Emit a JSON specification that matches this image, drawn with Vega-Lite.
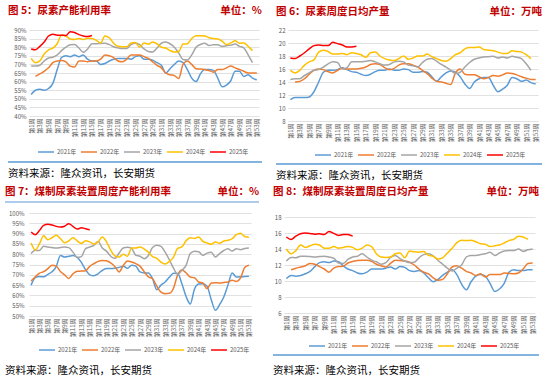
{
"$schema":"https://vega.github.io/schema/vega-lite/v6.json",
"padding":{"left":4,"top":5,"right":0,"bottom":0},
"background":"white",
"config":{"view":{"stroke":null},"font":"Noto Sans CJK SC",
"axis":{"labelFont":"Noto Sans CJK SC","labelColor":"#595959","labelFontSize":6,"minExtent":0},
"legend":{"labelFont":"Noto Sans CJK SC","orient":"none","direction":"horizontal","title":null,"symbolType":"stroke","symbolSize":256,"symbolStrokeWidth":2,"labelFontSize":6,"labelColor":"#595959","columnPadding":1,"labelOffset":2,"padding":0}},
"datasets":{
"p5":[
{"s":2021,"w":1,"v":52.5},{"s":2021,"w":2,"v":55},{"s":2021,"w":3,"v":55.5},{"s":2021,"w":4,"v":55},{"s":2021,"w":5,"v":56},{"s":2021,"w":6,"v":59},{"s":2021,"w":7,"v":67},{"s":2021,"w":8,"v":74},{"s":2021,"w":9,"v":75},{"s":2021,"w":10,"v":74.5},{"s":2021,"w":11,"v":75.5},{"s":2021,"w":12,"v":74.5},{"s":2021,"w":13,"v":75.5},{"s":2021,"w":14,"v":73},{"s":2021,"w":15,"v":72},{"s":2021,"w":16,"v":72},{"s":2021,"w":17,"v":70},{"s":2021,"w":18,"v":70.5},{"s":2021,"w":19,"v":72},{"s":2021,"w":20,"v":73},{"s":2021,"w":21,"v":73.5},{"s":2021,"w":22,"v":73.5},{"s":2021,"w":23,"v":73.5},{"s":2021,"w":24,"v":73},{"s":2021,"w":25,"v":74.5},{"s":2021,"w":26,"v":75},{"s":2021,"w":27,"v":73},{"s":2021,"w":28,"v":73},{"s":2021,"w":29,"v":72.5},{"s":2021,"w":30,"v":71},{"s":2021,"w":31,"v":69.5},{"s":2021,"w":32,"v":65},{"s":2021,"w":33,"v":67.5},{"s":2021,"w":34,"v":70},{"s":2021,"w":35,"v":72},{"s":2021,"w":36,"v":71},{"s":2021,"w":37,"v":67},{"s":2021,"w":38,"v":62},{"s":2021,"w":39,"v":60},{"s":2021,"w":40,"v":64.5},{"s":2021,"w":41,"v":67},{"s":2021,"w":42,"v":67},{"s":2021,"w":43,"v":66.5},{"s":2021,"w":44,"v":62},{"s":2021,"w":45,"v":57},{"s":2021,"w":46,"v":58},{"s":2021,"w":47,"v":60.5},{"s":2021,"w":48,"v":66},{"s":2021,"w":49,"v":66},{"s":2021,"w":50,"v":63},{"s":2021,"w":51,"v":64},{"s":2021,"w":52,"v":62},{"s":2021,"w":53,"v":61},
{"s":2022,"w":2,"v":63},{"s":2022,"w":3,"v":64.5},{"s":2022,"w":4,"v":66},{"s":2022,"w":5,"v":68},{"s":2022,"w":6,"v":71},{"s":2022,"w":7,"v":72},{"s":2022,"w":8,"v":72.2},{"s":2022,"w":9,"v":71.5},{"s":2022,"w":10,"v":69},{"s":2022,"w":11,"v":68.5},{"s":2022,"w":12,"v":72},{"s":2022,"w":13,"v":72},{"s":2022,"w":14,"v":71.5},{"s":2022,"w":15,"v":72},{"s":2022,"w":16,"v":72},{"s":2022,"w":17,"v":73},{"s":2022,"w":18,"v":75.5},{"s":2022,"w":19,"v":75},{"s":2022,"w":20,"v":74},{"s":2022,"w":21,"v":72},{"s":2022,"w":22,"v":71.5},{"s":2022,"w":23,"v":73},{"s":2022,"w":24,"v":75.5},{"s":2022,"w":25,"v":75.5},{"s":2022,"w":26,"v":75.5},{"s":2022,"w":27,"v":74.5},{"s":2022,"w":28,"v":73.5},{"s":2022,"w":29,"v":71.5},{"s":2022,"w":30,"v":69.5},{"s":2022,"w":31,"v":68},{"s":2022,"w":32,"v":65},{"s":2022,"w":33,"v":64},{"s":2022,"w":34,"v":63.5},{"s":2022,"w":35,"v":61.8},{"s":2022,"w":36,"v":70},{"s":2022,"w":37,"v":72},{"s":2022,"w":38,"v":70},{"s":2022,"w":39,"v":67.5},{"s":2022,"w":40,"v":67.3},{"s":2022,"w":41,"v":67},{"s":2022,"w":42,"v":66.5},{"s":2022,"w":43,"v":65.5},{"s":2022,"w":44,"v":67},{"s":2022,"w":45,"v":67},{"s":2022,"w":46,"v":68},{"s":2022,"w":47,"v":69},{"s":2022,"w":48,"v":68},{"s":2022,"w":49,"v":67},{"s":2022,"w":50,"v":66},{"s":2022,"w":51,"v":65},{"s":2022,"w":52,"v":65},{"s":2022,"w":53,"v":65},
{"s":2023,"w":1,"v":69},{"s":2023,"w":2,"v":69},{"s":2023,"w":3,"v":69.5},{"s":2023,"w":4,"v":72},{"s":2023,"w":5,"v":73.7},{"s":2023,"w":6,"v":74.2},{"s":2023,"w":7,"v":75.5},{"s":2023,"w":8,"v":78},{"s":2023,"w":9,"v":80},{"s":2023,"w":10,"v":81.4},{"s":2023,"w":11,"v":81.5},{"s":2023,"w":12,"v":79.5},{"s":2023,"w":13,"v":77},{"s":2023,"w":14,"v":79},{"s":2023,"w":15,"v":82},{"s":2023,"w":16,"v":82},{"s":2023,"w":17,"v":82.2},{"s":2023,"w":18,"v":82.3},{"s":2023,"w":19,"v":81.5},{"s":2023,"w":20,"v":80.3},{"s":2023,"w":21,"v":79.6},{"s":2023,"w":22,"v":79.2},{"s":2023,"w":23,"v":79.2},{"s":2023,"w":24,"v":81.5},{"s":2023,"w":25,"v":82.3},{"s":2023,"w":26,"v":81.5},{"s":2023,"w":27,"v":79},{"s":2023,"w":28,"v":77.5},{"s":2023,"w":29,"v":77.2},{"s":2023,"w":30,"v":79.5},{"s":2023,"w":31,"v":82.3},{"s":2023,"w":32,"v":83},{"s":2023,"w":33,"v":82},{"s":2023,"w":34,"v":80},{"s":2023,"w":35,"v":76.6},{"s":2023,"w":36,"v":72.8},{"s":2023,"w":37,"v":72.5},{"s":2023,"w":38,"v":75.5},{"s":2023,"w":39,"v":80},{"s":2023,"w":40,"v":81.6},{"s":2023,"w":41,"v":82.3},{"s":2023,"w":42,"v":81},{"s":2023,"w":43,"v":81.4},{"s":2023,"w":44,"v":81.4},{"s":2023,"w":45,"v":80.4},{"s":2023,"w":46,"v":80.8},{"s":2023,"w":47,"v":81.2},{"s":2023,"w":48,"v":81.8},{"s":2023,"w":49,"v":80.5},{"s":2023,"w":50,"v":79.6},{"s":2023,"w":51,"v":75.6},{"s":2023,"w":52,"v":71},
{"s":2024,"w":1,"v":73.5},{"s":2024,"w":2,"v":71},{"s":2024,"w":3,"v":72},{"s":2024,"w":4,"v":76},{"s":2024,"w":5,"v":78.5},{"s":2024,"w":6,"v":79.5},{"s":2024,"w":7,"v":82},{"s":2024,"w":8,"v":87},{"s":2024,"w":9,"v":86.5},{"s":2024,"w":10,"v":84.8},{"s":2024,"w":11,"v":84.5},{"s":2024,"w":12,"v":85},{"s":2024,"w":13,"v":84.5},{"s":2024,"w":14,"v":85.2},{"s":2024,"w":15,"v":85},{"s":2024,"w":16,"v":84},{"s":2024,"w":17,"v":82.5},{"s":2024,"w":18,"v":86.5},{"s":2024,"w":19,"v":85.5},{"s":2024,"w":20,"v":82.3},{"s":2024,"w":21,"v":80.5},{"s":2024,"w":22,"v":80.2},{"s":2024,"w":23,"v":80.2},{"s":2024,"w":24,"v":82.5},{"s":2024,"w":25,"v":82.8},{"s":2024,"w":26,"v":80},{"s":2024,"w":27,"v":82.5},{"s":2024,"w":28,"v":81.8},{"s":2024,"w":29,"v":83},{"s":2024,"w":30,"v":82},{"s":2024,"w":31,"v":80},{"s":2024,"w":32,"v":79.5},{"s":2024,"w":33,"v":78},{"s":2024,"w":34,"v":77.2},{"s":2024,"w":35,"v":77.5},{"s":2024,"w":36,"v":81.8},{"s":2024,"w":37,"v":82},{"s":2024,"w":38,"v":85},{"s":2024,"w":39,"v":86.6},{"s":2024,"w":40,"v":86.6},{"s":2024,"w":41,"v":86.5},{"s":2024,"w":42,"v":85.5},{"s":2024,"w":43,"v":85},{"s":2024,"w":44,"v":84.8},{"s":2024,"w":45,"v":83.5},{"s":2024,"w":46,"v":81.5},{"s":2024,"w":47,"v":82.5},{"s":2024,"w":48,"v":83.7},{"s":2024,"w":49,"v":82.3},{"s":2024,"w":50,"v":82.5},{"s":2024,"w":51,"v":80.5},{"s":2024,"w":52,"v":78},
{"s":2025,"w":1,"v":79},{"s":2025,"w":2,"v":78.5},{"s":2025,"w":3,"v":80.5},{"s":2025,"w":4,"v":83},{"s":2025,"w":5,"v":86.5},{"s":2025,"w":6,"v":87.5},{"s":2025,"w":7,"v":87},{"s":2025,"w":8,"v":87},{"s":2025,"w":9,"v":86.8},{"s":2025,"w":10,"v":89},{"s":2025,"w":11,"v":88.5},{"s":2025,"w":12,"v":87.3},{"s":2025,"w":13,"v":86.5},{"s":2025,"w":14,"v":86.2},{"s":2025,"w":15,"v":86.8}
],
"p6":[
{"s":2021,"w":1,"v":11.3},{"s":2021,"w":2,"v":11.6},{"s":2021,"w":3,"v":11.6},{"s":2021,"w":4,"v":11.6},{"s":2021,"w":5,"v":11.7},{"s":2021,"w":6,"v":12.5},{"s":2021,"w":7,"v":14},{"s":2021,"w":8,"v":15.5},{"s":2021,"w":9,"v":15.8},{"s":2021,"w":10,"v":15.8},{"s":2021,"w":11,"v":15.9},{"s":2021,"w":12,"v":16.2},{"s":2021,"w":13,"v":15.9},{"s":2021,"w":14,"v":15.6},{"s":2021,"w":15,"v":15.5},{"s":2021,"w":16,"v":15.2},{"s":2021,"w":17,"v":15},{"s":2021,"w":18,"v":15.2},{"s":2021,"w":19,"v":15.6},{"s":2021,"w":20,"v":15.8},{"s":2021,"w":21,"v":15.8},{"s":2021,"w":22,"v":16},{"s":2021,"w":23,"v":15.8},{"s":2021,"w":24,"v":15.8},{"s":2021,"w":25,"v":16},{"s":2021,"w":26,"v":15.9},{"s":2021,"w":27,"v":15.5},{"s":2021,"w":28,"v":15.5},{"s":2021,"w":29,"v":15.6},{"s":2021,"w":30,"v":15.5},{"s":2021,"w":31,"v":14.8},{"s":2021,"w":32,"v":14.1},{"s":2021,"w":33,"v":14.8},{"s":2021,"w":34,"v":15.4},{"s":2021,"w":35,"v":15.7},{"s":2021,"w":36,"v":15.5},{"s":2021,"w":37,"v":14.8},{"s":2021,"w":38,"v":13.7},{"s":2021,"w":39,"v":13},{"s":2021,"w":40,"v":14},{"s":2021,"w":41,"v":14.5},{"s":2021,"w":42,"v":14.7},{"s":2021,"w":43,"v":14.7},{"s":2021,"w":44,"v":13.5},{"s":2021,"w":45,"v":12.5},{"s":2021,"w":46,"v":12.9},{"s":2021,"w":47,"v":13.5},{"s":2021,"w":48,"v":14.7},{"s":2021,"w":49,"v":14.5},{"s":2021,"w":50,"v":14.1},{"s":2021,"w":51,"v":14.3},{"s":2021,"w":52,"v":13.9},{"s":2021,"w":53,"v":13.7},
{"s":2022,"w":2,"v":14},{"s":2022,"w":3,"v":14.1},{"s":2022,"w":4,"v":14.5},{"s":2022,"w":5,"v":15.2},{"s":2022,"w":6,"v":15.8},{"s":2022,"w":7,"v":16},{"s":2022,"w":8,"v":15.9},{"s":2022,"w":9,"v":15.6},{"s":2022,"w":10,"v":15.4},{"s":2022,"w":11,"v":15.8},{"s":2022,"w":12,"v":16.1},{"s":2022,"w":13,"v":16},{"s":2022,"w":14,"v":16},{"s":2022,"w":15,"v":16},{"s":2022,"w":16,"v":16.1},{"s":2022,"w":17,"v":16.3},{"s":2022,"w":18,"v":16.7},{"s":2022,"w":19,"v":16.8},{"s":2022,"w":20,"v":16.7},{"s":2022,"w":21,"v":16.2},{"s":2022,"w":22,"v":15.9},{"s":2022,"w":23,"v":16.1},{"s":2022,"w":24,"v":16.6},{"s":2022,"w":25,"v":16.8},{"s":2022,"w":26,"v":16.8},{"s":2022,"w":27,"v":16.6},{"s":2022,"w":28,"v":16.3},{"s":2022,"w":29,"v":15.8},{"s":2022,"w":30,"v":15.3},{"s":2022,"w":31,"v":14.6},{"s":2022,"w":32,"v":14.1},{"s":2022,"w":33,"v":14},{"s":2022,"w":34,"v":13.8},{"s":2022,"w":35,"v":13.6},{"s":2022,"w":36,"v":15.4},{"s":2022,"w":37,"v":16},{"s":2022,"w":38,"v":15.2},{"s":2022,"w":39,"v":15.1},{"s":2022,"w":40,"v":15.1},{"s":2022,"w":41,"v":14.8},{"s":2022,"w":42,"v":14.5},{"s":2022,"w":43,"v":14.7},{"s":2022,"w":44,"v":15},{"s":2022,"w":45,"v":14.9},{"s":2022,"w":46,"v":15.1},{"s":2022,"w":47,"v":15.4},{"s":2022,"w":48,"v":15.3},{"s":2022,"w":49,"v":15.1},{"s":2022,"w":50,"v":14.8},{"s":2022,"w":51,"v":14.6},{"s":2022,"w":52,"v":14.4},{"s":2022,"w":53,"v":14.4},
{"s":2023,"w":1,"v":14.4},{"s":2023,"w":2,"v":14.5},{"s":2023,"w":3,"v":14.5},{"s":2023,"w":4,"v":15},{"s":2023,"w":5,"v":15.4},{"s":2023,"w":6,"v":15.8},{"s":2023,"w":7,"v":15.9},{"s":2023,"w":8,"v":16.3},{"s":2023,"w":9,"v":16.8},{"s":2023,"w":10,"v":17.1},{"s":2023,"w":11,"v":17},{"s":2023,"w":12,"v":16},{"s":2023,"w":13,"v":16.2},{"s":2023,"w":14,"v":17.1},{"s":2023,"w":15,"v":17.1},{"s":2023,"w":16,"v":17.1},{"s":2023,"w":17,"v":17.2},{"s":2023,"w":18,"v":17.3},{"s":2023,"w":19,"v":17.1},{"s":2023,"w":20,"v":16.8},{"s":2023,"w":21,"v":16.6},{"s":2023,"w":22,"v":16.7},{"s":2023,"w":23,"v":17.1},{"s":2023,"w":24,"v":17.2},{"s":2023,"w":25,"v":17.1},{"s":2023,"w":26,"v":16.6},{"s":2023,"w":27,"v":16.5},{"s":2023,"w":28,"v":16.3},{"s":2023,"w":29,"v":17},{"s":2023,"w":30,"v":17.5},{"s":2023,"w":31,"v":17.6},{"s":2023,"w":32,"v":17.2},{"s":2023,"w":33,"v":16.7},{"s":2023,"w":34,"v":16.3},{"s":2023,"w":35,"v":15.8},{"s":2023,"w":36,"v":15.3},{"s":2023,"w":37,"v":15.5},{"s":2023,"w":38,"v":16.3},{"s":2023,"w":39,"v":17},{"s":2023,"w":40,"v":17.5},{"s":2023,"w":41,"v":17.7},{"s":2023,"w":42,"v":17.85},{"s":2023,"w":43,"v":17.9},{"s":2023,"w":44,"v":17.95},{"s":2023,"w":45,"v":17.7},{"s":2023,"w":46,"v":17.85},{"s":2023,"w":47,"v":17.7},{"s":2023,"w":48,"v":17.95},{"s":2023,"w":49,"v":17.8},{"s":2023,"w":50,"v":17.6},{"s":2023,"w":51,"v":16.8},{"s":2023,"w":52,"v":15.8},
{"s":2024,"w":1,"v":15.8},{"s":2024,"w":2,"v":15.4},{"s":2024,"w":3,"v":15.8},{"s":2024,"w":4,"v":16.6},{"s":2024,"w":5,"v":17.1},{"s":2024,"w":6,"v":17.4},{"s":2024,"w":7,"v":18.6},{"s":2024,"w":8,"v":18.9},{"s":2024,"w":9,"v":18.7},{"s":2024,"w":10,"v":18.3},{"s":2024,"w":11,"v":18.3},{"s":2024,"w":12,"v":18.4},{"s":2024,"w":13,"v":18.2},{"s":2024,"w":14,"v":18.5},{"s":2024,"w":15,"v":18.4},{"s":2024,"w":16,"v":18.2},{"s":2024,"w":17,"v":17.8},{"s":2024,"w":18,"v":18.5},{"s":2024,"w":19,"v":18.6},{"s":2024,"w":20,"v":18},{"s":2024,"w":21,"v":17.6},{"s":2024,"w":22,"v":17.4},{"s":2024,"w":23,"v":17.3},{"s":2024,"w":24,"v":17.6},{"s":2024,"w":25,"v":18},{"s":2024,"w":26,"v":17.5},{"s":2024,"w":27,"v":17.7},{"s":2024,"w":28,"v":18},{"s":2024,"w":29,"v":18},{"s":2024,"w":30,"v":18.3},{"s":2024,"w":31,"v":17.9},{"s":2024,"w":32,"v":17.6},{"s":2024,"w":33,"v":17.3},{"s":2024,"w":34,"v":17.2},{"s":2024,"w":35,"v":17.6},{"s":2024,"w":36,"v":18.2},{"s":2024,"w":37,"v":18.5},{"s":2024,"w":38,"v":19.1},{"s":2024,"w":39,"v":19.3},{"s":2024,"w":40,"v":19.3},{"s":2024,"w":41,"v":19.4},{"s":2024,"w":42,"v":19},{"s":2024,"w":43,"v":18.9},{"s":2024,"w":44,"v":18.8},{"s":2024,"w":45,"v":18.6},{"s":2024,"w":46,"v":18.4},{"s":2024,"w":47,"v":18.4},{"s":2024,"w":48,"v":18.8},{"s":2024,"w":49,"v":18.7},{"s":2024,"w":50,"v":18.6},{"s":2024,"w":51,"v":18.2},{"s":2024,"w":52,"v":17.6},
{"s":2025,"w":1,"v":17.7},{"s":2025,"w":2,"v":17.6},{"s":2025,"w":3,"v":18},{"s":2025,"w":4,"v":18.5},{"s":2025,"w":5,"v":19.1},{"s":2025,"w":6,"v":19.6},{"s":2025,"w":7,"v":19.7},{"s":2025,"w":8,"v":19.6},{"s":2025,"w":9,"v":19.6},{"s":2025,"w":10,"v":20.1},{"s":2025,"w":11,"v":19.9},{"s":2025,"w":12,"v":19.7},{"s":2025,"w":13,"v":19.4},{"s":2025,"w":14,"v":19.4},{"s":2025,"w":15,"v":19.5}
],
"p7":[
{"s":2021,"w":1,"v":65},{"s":2021,"w":2,"v":68.6},{"s":2021,"w":3,"v":69.2},{"s":2021,"w":4,"v":69},{"s":2021,"w":5,"v":70.2},{"s":2021,"w":6,"v":71.5},{"s":2021,"w":7,"v":74},{"s":2021,"w":8,"v":79.4},{"s":2021,"w":9,"v":78.6},{"s":2021,"w":10,"v":79},{"s":2021,"w":11,"v":79.4},{"s":2021,"w":12,"v":78.5},{"s":2021,"w":13,"v":76},{"s":2021,"w":14,"v":72.5},{"s":2021,"w":15,"v":70},{"s":2021,"w":16,"v":69.5},{"s":2021,"w":17,"v":70.5},{"s":2021,"w":18,"v":72.2},{"s":2021,"w":19,"v":73},{"s":2021,"w":20,"v":73},{"s":2021,"w":21,"v":73.2},{"s":2021,"w":22,"v":73.6},{"s":2021,"w":23,"v":74.2},{"s":2021,"w":24,"v":73.2},{"s":2021,"w":25,"v":74.6},{"s":2021,"w":26,"v":74.2},{"s":2021,"w":27,"v":71.4},{"s":2021,"w":28,"v":70.9},{"s":2021,"w":29,"v":70.9},{"s":2021,"w":30,"v":68.1},{"s":2021,"w":31,"v":62.8},{"s":2021,"w":32,"v":65},{"s":2021,"w":33,"v":66.5},{"s":2021,"w":34,"v":68.8},{"s":2021,"w":35,"v":70.8},{"s":2021,"w":36,"v":70.6},{"s":2021,"w":37,"v":65.7},{"s":2021,"w":38,"v":59.5},{"s":2021,"w":39,"v":55.8},{"s":2021,"w":40,"v":63},{"s":2021,"w":41,"v":65.5},{"s":2021,"w":42,"v":65.7},{"s":2021,"w":43,"v":64.5},{"s":2021,"w":44,"v":58},{"s":2021,"w":45,"v":52.8},{"s":2021,"w":46,"v":55.5},{"s":2021,"w":47,"v":59.2},{"s":2021,"w":48,"v":65},{"s":2021,"w":49,"v":70.9},{"s":2021,"w":50,"v":68.9},{"s":2021,"w":51,"v":69},{"s":2021,"w":52,"v":69.2},{"s":2021,"w":53,"v":69.3},
{"s":2022,"w":1,"v":67},{"s":2022,"w":2,"v":69},{"s":2022,"w":3,"v":70.8},{"s":2022,"w":4,"v":71.5},{"s":2022,"w":5,"v":73},{"s":2022,"w":6,"v":74.6},{"s":2022,"w":7,"v":74.2},{"s":2022,"w":8,"v":71.6},{"s":2022,"w":9,"v":70},{"s":2022,"w":10,"v":68.2},{"s":2022,"w":11,"v":70.5},{"s":2022,"w":12,"v":71.7},{"s":2022,"w":13,"v":71.8},{"s":2022,"w":14,"v":72},{"s":2022,"w":15,"v":74.1},{"s":2022,"w":16,"v":75.4},{"s":2022,"w":17,"v":76.5},{"s":2022,"w":18,"v":77},{"s":2022,"w":19,"v":76.8},{"s":2022,"w":20,"v":75.8},{"s":2022,"w":21,"v":74},{"s":2022,"w":22,"v":71.4},{"s":2022,"w":23,"v":74.5},{"s":2022,"w":24,"v":76.7},{"s":2022,"w":25,"v":76.2},{"s":2022,"w":26,"v":75.4},{"s":2022,"w":27,"v":74.2},{"s":2022,"w":28,"v":71.5},{"s":2022,"w":29,"v":69},{"s":2022,"w":30,"v":68.1},{"s":2022,"w":31,"v":64.5},{"s":2022,"w":32,"v":61.6},{"s":2022,"w":33,"v":60.8},{"s":2022,"w":34,"v":61},{"s":2022,"w":35,"v":63.5},{"s":2022,"w":36,"v":70},{"s":2022,"w":37,"v":72.3},{"s":2022,"w":38,"v":71},{"s":2022,"w":39,"v":68.9},{"s":2022,"w":40,"v":68.6},{"s":2022,"w":41,"v":66.5},{"s":2022,"w":42,"v":66},{"s":2022,"w":43,"v":63.3},{"s":2022,"w":44,"v":66},{"s":2022,"w":45,"v":66.2},{"s":2022,"w":46,"v":66},{"s":2022,"w":47,"v":66.3},{"s":2022,"w":48,"v":66.5},{"s":2022,"w":49,"v":67.3},{"s":2022,"w":50,"v":66.8},{"s":2022,"w":51,"v":68.5},{"s":2022,"w":52,"v":73.5},{"s":2022,"w":53,"v":74.6},
{"s":2023,"w":1,"v":80.3},{"s":2023,"w":2,"v":81.9},{"s":2023,"w":3,"v":81.8},{"s":2023,"w":4,"v":83.8},{"s":2023,"w":5,"v":83.5},{"s":2023,"w":6,"v":83.2},{"s":2023,"w":7,"v":83},{"s":2023,"w":8,"v":83.2},{"s":2023,"w":9,"v":83.5},{"s":2023,"w":10,"v":83.2},{"s":2023,"w":11,"v":81},{"s":2023,"w":12,"v":78.4},{"s":2023,"w":13,"v":78.8},{"s":2023,"w":14,"v":82.7},{"s":2023,"w":15,"v":83.5},{"s":2023,"w":16,"v":84.3},{"s":2023,"w":17,"v":86.2},{"s":2023,"w":18,"v":83},{"s":2023,"w":19,"v":81.5},{"s":2023,"w":20,"v":79},{"s":2023,"w":21,"v":78},{"s":2023,"w":22,"v":80.5},{"s":2023,"w":23,"v":83},{"s":2023,"w":24,"v":83.4},{"s":2023,"w":25,"v":82.8},{"s":2023,"w":26,"v":79.5},{"s":2023,"w":27,"v":79},{"s":2023,"w":28,"v":77.8},{"s":2023,"w":29,"v":79.4},{"s":2023,"w":30,"v":83.2},{"s":2023,"w":31,"v":84.3},{"s":2023,"w":32,"v":83.8},{"s":2023,"w":33,"v":81},{"s":2023,"w":34,"v":77.3},{"s":2023,"w":35,"v":73.2},{"s":2023,"w":36,"v":70.2},{"s":2023,"w":37,"v":72.2},{"s":2023,"w":38,"v":74.6},{"s":2023,"w":39,"v":80.3},{"s":2023,"w":40,"v":81.4},{"s":2023,"w":41,"v":81.2},{"s":2023,"w":42,"v":79.4},{"s":2023,"w":43,"v":80.5},{"s":2023,"w":44,"v":81},{"s":2023,"w":45,"v":78.6},{"s":2023,"w":46,"v":80.3},{"s":2023,"w":47,"v":81.8},{"s":2023,"w":48,"v":82.6},{"s":2023,"w":49,"v":81.5},{"s":2023,"w":50,"v":82.7},{"s":2023,"w":51,"v":82.2},{"s":2023,"w":52,"v":82.8},{"s":2023,"w":53,"v":83},
{"s":2024,"w":1,"v":85.4},{"s":2024,"w":2,"v":82},{"s":2024,"w":3,"v":85},{"s":2024,"w":4,"v":89},{"s":2024,"w":5,"v":87},{"s":2024,"w":6,"v":88},{"s":2024,"w":7,"v":89.2},{"s":2024,"w":8,"v":87.6},{"s":2024,"w":9,"v":85.5},{"s":2024,"w":10,"v":86.5},{"s":2024,"w":11,"v":88},{"s":2024,"w":12,"v":86.5},{"s":2024,"w":13,"v":85.2},{"s":2024,"w":14,"v":86.5},{"s":2024,"w":15,"v":86},{"s":2024,"w":16,"v":85},{"s":2024,"w":17,"v":86},{"s":2024,"w":18,"v":88.4},{"s":2024,"w":19,"v":86},{"s":2024,"w":20,"v":82},{"s":2024,"w":21,"v":79.2},{"s":2024,"w":22,"v":78.6},{"s":2024,"w":23,"v":80},{"s":2024,"w":24,"v":79},{"s":2024,"w":25,"v":83},{"s":2024,"w":26,"v":83},{"s":2024,"w":27,"v":83.5},{"s":2024,"w":28,"v":82.5},{"s":2024,"w":29,"v":81},{"s":2024,"w":30,"v":78.8},{"s":2024,"w":31,"v":78},{"s":2024,"w":32,"v":76.2},{"s":2024,"w":33,"v":75.3},{"s":2024,"w":34,"v":76.5},{"s":2024,"w":35,"v":78.6},{"s":2024,"w":36,"v":82.8},{"s":2024,"w":37,"v":83.5},{"s":2024,"w":38,"v":86.5},{"s":2024,"w":39,"v":88},{"s":2024,"w":40,"v":87.6},{"s":2024,"w":41,"v":88.4},{"s":2024,"w":42,"v":86.2},{"s":2024,"w":43,"v":85.5},{"s":2024,"w":44,"v":84.8},{"s":2024,"w":45,"v":85.9},{"s":2024,"w":46,"v":85.3},{"s":2024,"w":47,"v":86.4},{"s":2024,"w":48,"v":86.8},{"s":2024,"w":49,"v":87.5},{"s":2024,"w":50,"v":89.5},{"s":2024,"w":51,"v":90.2},{"s":2024,"w":52,"v":88.6},{"s":2024,"w":53,"v":88.2},
{"s":2025,"w":1,"v":90.8},{"s":2025,"w":2,"v":89.5},{"s":2025,"w":3,"v":91.5},{"s":2025,"w":4,"v":94},{"s":2025,"w":5,"v":94.5},{"s":2025,"w":6,"v":94.2},{"s":2025,"w":7,"v":93.5},{"s":2025,"w":8,"v":93.2},{"s":2025,"w":9,"v":93.6},{"s":2025,"w":10,"v":94.8},{"s":2025,"w":11,"v":93.5},{"s":2025,"w":12,"v":92.2},{"s":2025,"w":13,"v":92.8},{"s":2025,"w":14,"v":92.4},{"s":2025,"w":15,"v":91.9}
],
"p8":[
{"s":2021,"w":1,"v":10.3},{"s":2021,"w":2,"v":10.7},{"s":2021,"w":3,"v":10.6},{"s":2021,"w":4,"v":10.7},{"s":2021,"w":5,"v":10.9},{"s":2021,"w":6,"v":11.2},{"s":2021,"w":7,"v":11.8},{"s":2021,"w":8,"v":12.3},{"s":2021,"w":9,"v":12.4},{"s":2021,"w":10,"v":12.3},{"s":2021,"w":11,"v":12.5},{"s":2021,"w":12,"v":12.4},{"s":2021,"w":13,"v":11.9},{"s":2021,"w":14,"v":11.5},{"s":2021,"w":15,"v":11.3},{"s":2021,"w":16,"v":11},{"s":2021,"w":17,"v":10.9},{"s":2021,"w":18,"v":11.1},{"s":2021,"w":19,"v":11.5},{"s":2021,"w":20,"v":11.5},{"s":2021,"w":21,"v":11.5},{"s":2021,"w":22,"v":11.6},{"s":2021,"w":23,"v":11.75},{"s":2021,"w":24,"v":11.5},{"s":2021,"w":25,"v":11.8},{"s":2021,"w":26,"v":11.7},{"s":2021,"w":27,"v":11.3},{"s":2021,"w":28,"v":11.2},{"s":2021,"w":29,"v":11.3},{"s":2021,"w":30,"v":11},{"s":2021,"w":31,"v":10.4},{"s":2021,"w":32,"v":9.9},{"s":2021,"w":33,"v":10.2},{"s":2021,"w":34,"v":10.7},{"s":2021,"w":35,"v":11.1},{"s":2021,"w":36,"v":11.4},{"s":2021,"w":37,"v":10.8},{"s":2021,"w":38,"v":9.6},{"s":2021,"w":39,"v":8.9},{"s":2021,"w":40,"v":9.9},{"s":2021,"w":41,"v":10.6},{"s":2021,"w":42,"v":10.8},{"s":2021,"w":43,"v":10.6},{"s":2021,"w":44,"v":9.7},{"s":2021,"w":45,"v":8.7},{"s":2021,"w":46,"v":9},{"s":2021,"w":47,"v":9.7},{"s":2021,"w":48,"v":11.1},{"s":2021,"w":49,"v":11.4},{"s":2021,"w":50,"v":11.3},{"s":2021,"w":51,"v":11.3},{"s":2021,"w":52,"v":11.4},{"s":2021,"w":53,"v":11.4},
{"s":2022,"w":2,"v":11.4},{"s":2022,"w":3,"v":11.6},{"s":2022,"w":4,"v":11.75},{"s":2022,"w":5,"v":11.9},{"s":2022,"w":6,"v":12.2},{"s":2022,"w":7,"v":12.1},{"s":2022,"w":8,"v":11.8},{"s":2022,"w":9,"v":11.5},{"s":2022,"w":10,"v":11.1},{"s":2022,"w":11,"v":11.6},{"s":2022,"w":12,"v":11.8},{"s":2022,"w":13,"v":11.85},{"s":2022,"w":14,"v":12.25},{"s":2022,"w":15,"v":12.45},{"s":2022,"w":16,"v":12.55},{"s":2022,"w":17,"v":12.6},{"s":2022,"w":18,"v":12.6},{"s":2022,"w":19,"v":12.45},{"s":2022,"w":20,"v":12.1},{"s":2022,"w":21,"v":11.9},{"s":2022,"w":22,"v":11.75},{"s":2022,"w":23,"v":12.2},{"s":2022,"w":24,"v":12.6},{"s":2022,"w":25,"v":12.55},{"s":2022,"w":26,"v":12.5},{"s":2022,"w":27,"v":12.35},{"s":2022,"w":28,"v":12},{"s":2022,"w":29,"v":11.5},{"s":2022,"w":30,"v":11.1},{"s":2022,"w":31,"v":10.9},{"s":2022,"w":32,"v":10.4},{"s":2022,"w":33,"v":10.1},{"s":2022,"w":34,"v":10.2},{"s":2022,"w":35,"v":10.9},{"s":2022,"w":36,"v":11.75},{"s":2022,"w":37,"v":11.9},{"s":2022,"w":38,"v":11.6},{"s":2022,"w":39,"v":11.2},{"s":2022,"w":40,"v":11},{"s":2022,"w":41,"v":10.7},{"s":2022,"w":42,"v":10.9},{"s":2022,"w":43,"v":10.5},{"s":2022,"w":44,"v":10.8},{"s":2022,"w":45,"v":10.8},{"s":2022,"w":46,"v":10.8},{"s":2022,"w":47,"v":11},{"s":2022,"w":48,"v":10.95},{"s":2022,"w":49,"v":10.9},{"s":2022,"w":50,"v":11},{"s":2022,"w":51,"v":11.5},{"s":2022,"w":52,"v":12.2},{"s":2022,"w":53,"v":12.25},
{"s":2023,"w":1,"v":12.5},{"s":2023,"w":2,"v":12.95},{"s":2023,"w":3,"v":12.9},{"s":2023,"w":4,"v":13.1},{"s":2023,"w":5,"v":13.1},{"s":2023,"w":6,"v":13.05},{"s":2023,"w":7,"v":13},{"s":2023,"w":8,"v":13.05},{"s":2023,"w":9,"v":13.1},{"s":2023,"w":10,"v":13},{"s":2023,"w":11,"v":12.85},{"s":2023,"w":12,"v":12.25},{"s":2023,"w":13,"v":12.2},{"s":2023,"w":14,"v":12.7},{"s":2023,"w":15,"v":13},{"s":2023,"w":16,"v":13.1},{"s":2023,"w":17,"v":13.4},{"s":2023,"w":18,"v":13},{"s":2023,"w":19,"v":12.6},{"s":2023,"w":20,"v":12.4},{"s":2023,"w":21,"v":12.1},{"s":2023,"w":22,"v":12.3},{"s":2023,"w":23,"v":12.95},{"s":2023,"w":24,"v":13.2},{"s":2023,"w":25,"v":12.8},{"s":2023,"w":26,"v":12.5},{"s":2023,"w":27,"v":12.3},{"s":2023,"w":28,"v":12.35},{"s":2023,"w":29,"v":12.9},{"s":2023,"w":30,"v":13.3},{"s":2023,"w":31,"v":13.4},{"s":2023,"w":32,"v":13.15},{"s":2023,"w":33,"v":12.6},{"s":2023,"w":34,"v":12.1},{"s":2023,"w":35,"v":11.6},{"s":2023,"w":36,"v":11.25},{"s":2023,"w":37,"v":11.6},{"s":2023,"w":38,"v":12},{"s":2023,"w":39,"v":13},{"s":2023,"w":40,"v":13.2},{"s":2023,"w":41,"v":13.2},{"s":2023,"w":42,"v":13.3},{"s":2023,"w":43,"v":13.4},{"s":2023,"w":44,"v":13.6},{"s":2023,"w":45,"v":13.2},{"s":2023,"w":46,"v":13.5},{"s":2023,"w":47,"v":13.75},{"s":2023,"w":48,"v":13.8},{"s":2023,"w":49,"v":13.8},{"s":2023,"w":50,"v":14},{"s":2023,"w":51,"v":13.7},{"s":2023,"w":52,"v":13.9},{"s":2023,"w":53,"v":14},
{"s":2024,"w":1,"v":14},{"s":2024,"w":2,"v":13.4},{"s":2024,"w":3,"v":13.8},{"s":2024,"w":4,"v":14.5},{"s":2024,"w":5,"v":14.2},{"s":2024,"w":6,"v":14.4},{"s":2024,"w":7,"v":14.6},{"s":2024,"w":8,"v":14.5},{"s":2024,"w":9,"v":14.1},{"s":2024,"w":10,"v":14.1},{"s":2024,"w":11,"v":14.3},{"s":2024,"w":12,"v":14.1},{"s":2024,"w":13,"v":14.2},{"s":2024,"w":14,"v":14.3},{"s":2024,"w":15,"v":14.2},{"s":2024,"w":16,"v":13.9},{"s":2024,"w":17,"v":14.1},{"s":2024,"w":18,"v":14.5},{"s":2024,"w":19,"v":14.3},{"s":2024,"w":20,"v":13.4},{"s":2024,"w":21,"v":13},{"s":2024,"w":22,"v":12.95},{"s":2024,"w":23,"v":13},{"s":2024,"w":24,"v":13.4},{"s":2024,"w":25,"v":13.5},{"s":2024,"w":26,"v":12.9},{"s":2024,"w":27,"v":13.75},{"s":2024,"w":28,"v":13.65},{"s":2024,"w":29,"v":13.6},{"s":2024,"w":30,"v":13.7},{"s":2024,"w":31,"v":13.2},{"s":2024,"w":32,"v":13.1},{"s":2024,"w":33,"v":12.75},{"s":2024,"w":34,"v":12.9},{"s":2024,"w":35,"v":13.5},{"s":2024,"w":36,"v":14.1},{"s":2024,"w":37,"v":14.8},{"s":2024,"w":38,"v":15.1},{"s":2024,"w":39,"v":15.05},{"s":2024,"w":40,"v":15.1},{"s":2024,"w":41,"v":14.9},{"s":2024,"w":42,"v":14.65},{"s":2024,"w":43,"v":14.6},{"s":2024,"w":44,"v":14.3},{"s":2024,"w":45,"v":14.4},{"s":2024,"w":46,"v":14.5},{"s":2024,"w":47,"v":14.75},{"s":2024,"w":48,"v":15.05},{"s":2024,"w":49,"v":15.2},{"s":2024,"w":50,"v":15.6},{"s":2024,"w":51,"v":15.5},{"s":2024,"w":52,"v":15.2},
{"s":2025,"w":1,"v":15.5},{"s":2025,"w":2,"v":15.2},{"s":2025,"w":3,"v":15.6},{"s":2025,"w":4,"v":15.9},{"s":2025,"w":5,"v":16},{"s":2025,"w":6,"v":15.95},{"s":2025,"w":7,"v":15.85},{"s":2025,"w":8,"v":15.9},{"s":2025,"w":9,"v":15.8},{"s":2025,"w":10,"v":16.2},{"s":2025,"w":11,"v":15.95},{"s":2025,"w":12,"v":15.7},{"s":2025,"w":13,"v":15.8},{"s":2025,"w":14,"v":15.8},{"s":2025,"w":15,"v":15.6}
]},
"resolve":{"scale":{"color":"independent","strokeWidth":"independent"},"legend":{"color":"independent","strokeWidth":"independent"}},
"spacing":5,
"vconcat":[
{"spacing":12,"resolve":{"scale":{"color":"independent","strokeWidth":"independent"},"legend":{"color":"independent","strokeWidth":"independent"}},
"hconcat":[
{"width":230,"height":86,"resolve":{"axis":{"x":"independent","y":"independent"}},"layer":[
{"data":{"name":"p5"},"mark":{"type":"line","interpolate":"monotone","clip":false},
"encoding":{
"x":{"field":"w","type":"quantitative","scale":{"domain":[0.5,53.5],"nice":false,"zero":false},"axis":{"values":[1,3,5,7,9,11,13,15,17,19,21,23,25,27,29,31,33,35,37,39,41,43,45,47,49,51,53],"labelExpr":"'第'+datum.value+'周'","labelAngle":-90,"grid":false,"ticks":false,"domain":false,"title":null,"labelPadding":2,"labelOverlap":false,"labelFlush":false,"labelBound":false}},
"y":{"field":"v","type":"quantitative","scale":{"domain":[40,90],"nice":false,"zero":false},"axis":{"values":[40,45,50,55,60,65,70,75,80,85,90],"labelExpr":"datum.value+'%'","title":null,"domain":false,"ticks":false,"gridColor":"#D9D9D9","gridWidth":0.8,"labelPadding":3,"labelOverlap":false}},
"color":{"field":"s","type":"nominal","scale":{"domain":[2021,2022,2023,2024,2025],"range":["#5B9BD5","#ED7D31","#A5A5A5","#FFC000","#FF0000"]},"legend":{"legendX":8,"legendY":113,"labelExpr":"datum.label+'年'"}},
"strokeWidth":{"field":"s","type":"nominal","scale":{"domain":[2021,2022,2023,2024,2025],"range":[1.5,1.5,1.5,1.5,2.5]},"legend":null}}},
{"data":{"values":[{"t":"图 5：尿素产能利用率"}]},"mark":{"type":"text","align":"left","baseline":"middle","fontSize":10.5,"fontWeight":"bold","color":"#C00000","clip":false},"encoding":{"x":{"datum":-4.34,"type":"quantitative","axis":null},"y":{"datum":101.05,"type":"quantitative","axis":null},"text":{"field":"t"}}},
{"data":{"values":[{"t":"单位：%"}]},"mark":{"type":"text","align":"right","baseline":"middle","fontSize":10.5,"fontWeight":"bold","color":"#C00000","clip":false},"encoding":{"x":{"datum":54.19,"type":"quantitative","axis":null},"y":{"datum":101.05,"type":"quantitative","axis":null},"text":{"field":"t"}}},
{"data":{"values":[{"t":"top"},{"t":"bottom"}]},"mark":{"type":"rule","color":"#5B9BD5","strokeWidth":1,"clip":false},"encoding":{"x":{"datum":-4.34,"type":"quantitative","axis":null},"x2":{"datum":54.19},"y":{"condition":{"test":"datum.t=='top'","datum":95.23},"datum":13.26,"type":"quantitative","axis":null}}},
{"data":{"values":[{"t":"资料来源：隆众资讯，长安期货"}]},"mark":{"type":"text","align":"left","baseline":"middle","fontSize":10.5,"color":"#000000","clip":false},"encoding":{"x":{"datum":-4.34,"type":"quantitative","axis":null},"y":{"datum":6.28,"type":"quantitative","axis":null},"text":{"field":"t"}}}
]},
{"width":250,"height":91,"resolve":{"axis":{"x":"independent","y":"independent"}},"layer":[
{"data":{"name":"p6"},"mark":{"type":"line","interpolate":"monotone","clip":false},
"encoding":{
"x":{"field":"w","type":"quantitative","scale":{"domain":[0.5,53.5],"nice":false,"zero":false},"axis":{"values":[1,3,5,7,9,11,13,15,17,19,21,23,25,27,29,31,33,35,37,39,41,43,45,47,49,51,53],"labelExpr":"'第'+datum.value+'周'","labelAngle":-90,"grid":false,"ticks":false,"domain":false,"title":null,"labelPadding":2,"labelOverlap":false,"labelFlush":false,"labelBound":false}},
"y":{"field":"v","type":"quantitative","scale":{"domain":[8,22],"nice":false,"zero":false},"axis":{"values":[8,10,12,14,16,18,20,22],"title":null,"domain":false,"ticks":false,"gridColor":"#D9D9D9","gridWidth":0.8,"labelPadding":3,"labelOverlap":false}},
"color":{"field":"s","type":"nominal","scale":{"domain":[2021,2022,2023,2024,2025],"range":["#5B9BD5","#ED7D31","#A5A5A5","#FFC000","#FF0000"]},"legend":{"legendX":26,"legendY":116,"labelExpr":"datum.label+'年'"}},
"strokeWidth":{"field":"s","type":"nominal","scale":{"domain":[2021,2022,2023,2024,2025],"range":[1.5,1.5,1.5,1.5,2.5]},"legend":null}}},
{"data":{"values":[{"t":"图 6：尿素周度日均产量"}]},"mark":{"type":"text","align":"left","baseline":"middle","fontSize":10.5,"fontWeight":"bold","color":"#C00000","clip":false},"encoding":{"x":{"datum":-2.04,"type":"quantitative","axis":null},"y":{"datum":24.77,"type":"quantitative","axis":null},"text":{"field":"t"}}},
{"data":{"values":[{"t":"单位：万吨"}]},"mark":{"type":"text","align":"right","baseline":"middle","fontSize":10.5,"fontWeight":"bold","color":"#C00000","clip":false},"encoding":{"x":{"datum":54.35,"type":"quantitative","axis":null},"y":{"datum":24.77,"type":"quantitative","axis":null},"text":{"field":"t"}}},
{"data":{"values":[{"t":"top"},{"t":"bottom"}]},"mark":{"type":"rule","color":"#5B9BD5","strokeWidth":1,"clip":false},"encoding":{"x":{"datum":-2.04,"type":"quantitative","axis":null},"x2":{"datum":54.35},"y":{"condition":{"test":"datum.t=='top'","datum":23.38},"datum":1.385,"type":"quantitative","axis":null}}},
{"data":{"values":[{"t":"资料来源：隆众资讯，长安期货"}]},"mark":{"type":"text","align":"left","baseline":"middle","fontSize":10.5,"color":"#000000","clip":false},"encoding":{"x":{"datum":-2.04,"type":"quantitative","axis":null},"y":{"datum":-0.46,"type":"quantitative","axis":null},"text":{"field":"t"}}}
]}
]},
{"spacing":12,"resolve":{"scale":{"color":"independent","strokeWidth":"independent"},"legend":{"color":"independent","strokeWidth":"independent"}},
"hconcat":[
{"width":222,"height":103,"resolve":{"axis":{"x":"independent","y":"independent"}},"layer":[
{"data":{"name":"p7"},"mark":{"type":"line","interpolate":"monotone","clip":false},
"encoding":{
"x":{"field":"w","type":"quantitative","scale":{"domain":[0.5,53.5],"nice":false,"zero":false},"axis":{"values":[1,3,5,7,9,11,13,15,17,19,21,23,25,27,29,31,33,35,37,39,41,43,45,47,49,51,53],"labelExpr":"'第'+datum.value+'周'","labelAngle":-90,"grid":false,"ticks":false,"domain":false,"title":null,"labelPadding":2,"labelOverlap":false,"labelFlush":false,"labelBound":false}},
"y":{"field":"v","type":"quantitative","scale":{"domain":[50,100],"nice":false,"zero":false},"axis":{"values":[50,55,60,65,70,75,80,85,90,95,100],"labelExpr":"datum.value+'%'","title":null,"domain":false,"ticks":false,"gridColor":"#D9D9D9","gridWidth":0.8,"labelPadding":5,"labelOverlap":false}},
"color":{"field":"s","type":"nominal","scale":{"domain":[2021,2022,2023,2024,2025],"range":["#5B9BD5","#ED7D31","#A5A5A5","#FFC000","#FF0000"]},"legend":{"legendX":9,"legendY":128,"labelExpr":"datum.label+'年'"}},
"strokeWidth":{"field":"s","type":"nominal","scale":{"domain":[2021,2022,2023,2024,2025],"range":[1.5,1.5,1.5,1.5,2.5]},"legend":null}}},
{"data":{"values":[{"t":"图 7：煤制尿素装置周度产能利用率"}]},"mark":{"type":"text","align":"left","baseline":"middle","fontSize":10.5,"fontWeight":"bold","color":"#C00000","clip":false},"encoding":{"x":{"datum":-5.23,"type":"quantitative","axis":null},"y":{"datum":110.19,"type":"quantitative","axis":null},"text":{"field":"t"}}},
{"data":{"values":[{"t":"单位：%"}]},"mark":{"type":"text","align":"right","baseline":"middle","fontSize":10.5,"fontWeight":"bold","color":"#C00000","clip":false},"encoding":{"x":{"datum":55.41,"type":"quantitative","axis":null},"y":{"datum":110.19,"type":"quantitative","axis":null},"text":{"field":"t"}}},
{"data":{"values":[{"t":"top"}]},"mark":{"type":"rule","color":"#5B9BD5","strokeWidth":1,"clip":false},"encoding":{"x":{"datum":-5.23,"type":"quantitative","axis":null},"x2":{"datum":55.41},"y":{"datum":105.34,"type":"quantitative","axis":null}}},
{"data":{"values":[{"t":"资料来源：隆众资讯，长安期货"}]},"mark":{"type":"text","align":"left","baseline":"middle","fontSize":10.5,"color":"#000000","clip":false},"encoding":{"x":{"datum":-5.23,"type":"quantitative","axis":null},"y":{"datum":23.3,"type":"quantitative","axis":null},"text":{"field":"t"}}}
]},
{"width":251,"height":100,"resolve":{"axis":{"x":"independent","y":"independent"}},"layer":[
{"data":{"name":"p8"},"mark":{"type":"line","interpolate":"monotone","clip":false},
"encoding":{
"x":{"field":"w","type":"quantitative","scale":{"domain":[0.5,53.5],"nice":false,"zero":false},"axis":{"values":[1,3,5,7,9,11,13,15,17,19,21,23,25,27,29,31,33,35,37,39,41,43,45,47,49,51,53],"labelExpr":"'第'+datum.value+'周'","labelAngle":-90,"grid":false,"ticks":false,"domain":false,"title":null,"labelPadding":2,"labelOverlap":false,"labelFlush":false,"labelBound":false}},
"y":{"field":"v","type":"quantitative","scale":{"domain":[6,18.5],"nice":false,"zero":false},"axis":{"values":[6,8,10,12,14,16,18],"title":null,"domain":false,"ticks":false,"gridColor":"#D9D9D9","gridWidth":0.8,"labelPadding":3,"labelOverlap":false}},
"color":{"field":"s","type":"nominal","scale":{"domain":[2021,2022,2023,2024,2025],"range":["#5B9BD5","#ED7D31","#A5A5A5","#FFC000","#FF0000"]},"legend":{"legendX":24,"legendY":124,"labelExpr":"datum.label+'年'"}},
"strokeWidth":{"field":"s","type":"nominal","scale":{"domain":[2021,2022,2023,2024,2025],"range":[1.5,1.5,1.5,1.5,2.5]},"legend":null}}},
{"data":{"values":[{"t":"图 8：煤制尿素装置周度日均产量"}]},"mark":{"type":"text","align":"left","baseline":"middle","fontSize":10.5,"fontWeight":"bold","color":"#C00000","clip":false},"encoding":{"x":{"datum":-1.82,"type":"quantitative","axis":null},"y":{"datum":21.125,"type":"quantitative","axis":null},"text":{"field":"t"}}},
{"data":{"values":[{"t":"单位：万吨"}]},"mark":{"type":"text","align":"right","baseline":"middle","fontSize":10.5,"fontWeight":"bold","color":"#C00000","clip":false},"encoding":{"x":{"datum":54.34,"type":"quantitative","axis":null},"y":{"datum":21.125,"type":"quantitative","axis":null},"text":{"field":"t"}}},
{"data":{"values":[{"t":"top"},{"t":"bottom"}]},"mark":{"type":"rule","color":"#5B9BD5","strokeWidth":1,"clip":false},"encoding":{"x":{"datum":-1.82,"type":"quantitative","axis":null},"x2":{"datum":54.34},"y":{"condition":{"test":"datum.t=='top'","datum":19.875},"datum":0.75,"type":"quantitative","axis":null}}},
{"data":{"values":[{"t":"资料来源：隆众资讯，长安期货"}]},"mark":{"type":"text","align":"left","baseline":"middle","fontSize":10.5,"color":"#000000","clip":false},"encoding":{"x":{"datum":-1.82,"type":"quantitative","axis":null},"y":{"datum":-1.25,"type":"quantitative","axis":null},"text":{"field":"t"}}}
]}
]}
]
}
